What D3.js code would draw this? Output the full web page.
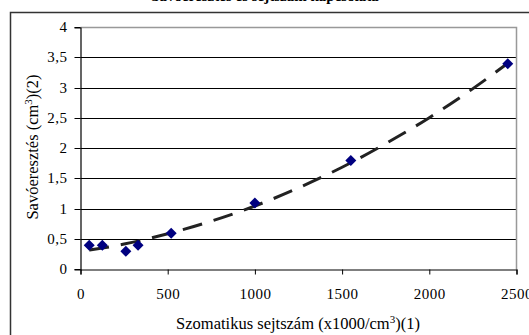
<!DOCTYPE html>
<html>
<head>
<meta charset="utf-8">
<script src="https://cdnjs.cloudflare.com/ajax/libs/d3/7.8.5/d3.min.js"></script>
<style>
  body { margin: 0; background: #fff; }
  svg { display: block; font-family: "Liberation Serif", "Times New Roman", serif; }
  .tick text { font-family: "Liberation Serif", "Times New Roman", serif; }
</style>
</head>
<body>
<svg id="chart"></svg>
<script>
// measured points
const cellCount = [50, 125, 260, 330, 520, 1000, 1550, 2450];
const wheyLoss = [0.4, 0.4, 0.3, 0.4, 0.6, 1.1, 1.8, 3.4];

// trend line
const trendX = [50, 250, 500, 750, 1000, 1250, 1500, 1750, 2000, 2250, 2450];
const trendY = [0.32, 0.42, 0.59, 0.8, 1.05, 1.35, 1.69, 2.08, 2.51, 2.99, 3.41];

const xTicks = [0, 500, 1000, 1500, 2000, 2500];
const yTicks = [0, 0.5, 1, 1.5, 2, 2.5, 3, 3.5, 4];

let svg = d3.select("#chart")
  .attr("width", 529)
  .attr("height", 335)

// outer chart frame
svg.append("rect")
  .attr("x", 10.5).attr("y", 12.5)
  .attr("width", 540).attr("height", 340)
  .attr("fill", "none")
  .attr("stroke", "#333")
  .attr("stroke-width", 1.5)

// title, mostly cut off at the top
svg.append("text")
  .attr("x", 265).attr("y", 1)
  .attr("text-anchor", "middle")
  .attr("font-weight", "bold")
  .attr("font-size", 15)
  .text("Savóeresztés és sejtszám kapcsolata")

let x = d3.scaleLinear().domain([0, 2500]).range([80.5, 516.5])
let y = d3.scaleLinear().domain([0, 4]).range([269.5, 27.5])
let ry = d => Math.round(y(d) - 0.5) + 0.5

// grid lines
svg.append("g")
  .selectAll("line")
  .data(yTicks.slice(1, -1))
  .join("line")
    .attr("x1", x(0)).attr("x2", x(2500))
    .attr("y1", d => ry(d)).attr("y2", d => ry(d))
    .attr("stroke", "#000")
    .attr("stroke-width", 1)

// plot area border (top, right)
svg.append("path")
  .attr("d", `M${x(0)},${y(4)}H${x(2500)}V${y(0)}`)
  .attr("fill", "none")
  .attr("stroke", "#999")
  .attr("stroke-width", 1.5)

let fmt = d => String(d).replace(".", ",")

let xAxis = svg.append("g")
  .attr("transform", `translate(0,${y(0)})`)
  .call(d3.axisBottom(x).tickValues(xTicks).tickSize(5).tickPadding(14).tickFormat(d => d))
let yAxis = svg.append("g")
  .attr("transform", `translate(${x(0)},0)`)
  .call(d3.axisLeft(y).tickValues(yTicks).tickSize(6).tickPadding(7).tickFormat(fmt))

for (let ax of [xAxis, yAxis]) {
  ax.attr("font-family", null).attr("font-size", 15)
  ax.select(".domain").attr("stroke", "#000").attr("stroke-width", 1.2)
  ax.selectAll(".tick line").attr("stroke", "#000")
  ax.selectAll(".tick text").attr("fill", "#000").attr("letter-spacing", 0.5)
}
yAxis.selectAll(".tick").attr("transform", d => `translate(0,${ry(d)})`)

// trend line
let line = d3.line()
  .x((d, i) => x(trendX[i]))
  .y(d => y(d))
  .curve(d3.curveMonotoneX)

svg.append("path")
  .datum(trendY)
  .attr("d", line)
  .attr("fill", "none")
  .attr("stroke", "#222")
  .attr("stroke-width", 3)
  .attr("stroke-dasharray", "20,12")

// markers
svg.append("g")
  .selectAll("path")
  .data(wheyLoss)
  .join("path")
    .attr("transform", (d, i) => `translate(${x(cellCount[i])},${y(d)})`)
    .attr("d", "M0,-5.5L5.5,0L0,5.5L-5.5,0Z")
    .attr("fill", "#000080")

// axis titles
svg.append("text")
  .attr("x", 298).attr("y", 329)
  .attr("text-anchor", "middle")
  .attr("font-size", 16.5)
  .html('Szomatikus sejtszám (x1000/cm<tspan dy="-6" font-size="11">3</tspan><tspan dy="6">)(1)</tspan>')

svg.append("text")
  .attr("transform", "translate(38,147) rotate(-90)")
  .attr("text-anchor", "middle")
  .attr("font-size", 16.5)
  .html('Savóeresztés (cm<tspan dy="-6" font-size="11">3</tspan><tspan dy="6">)(2)</tspan>')
</script>
</body>
</html>
